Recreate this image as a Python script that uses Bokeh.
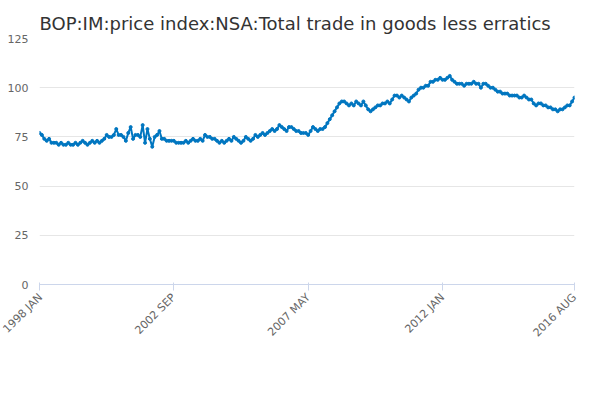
import numpy as np
from bokeh.plotting import figure
from bokeh.models import Legend, LegendItem, Label, FixedTicker, Range1d
from bokeh.embed import file_html
from bokeh.resources import INLINE

series_name = "BOP:IM:price index:NSA:Total trade in goods less erratics"
values = [
77,76,74,73,74,72,72,72,71,72,71,71,
72,71,71,72,71,72,73,72,71,72,73,72,
73,72,73,74,76,75,75,76,79,76,76,75,
73,77,80,74,76,76,75,81,72,79,74,70,
75,76,78,74,74,73,73,73,73,72,72,72,
72,73,72,73,74,73,73,74,73,76,75,75,
74,74,73,72,73,72,73,74,73,75,74,73,
72,73,75,74,73,74,76,75,76,77,76,77,
78,79,78,79,81,80,79,78,80,80,79,78,
78,77,77,77,76,78,80,79,78,79,79,80,
82,84,86,88,90,92,93,93,92,91,92,91,
93,92,91,93,91,89,88,89,90,91,91,92,
92,93,92,94,96,96,95,96,95,94,93,95,
96,97,99,100,100,101,101,103,103,104,104,105,
104,104,105,106,104,103,102,102,102,101,102,102,
102,103,102,102,100,102,102,101,100,100,99,98,
98,97,97,97,96,96,96,96,95,95,96,95,
94,94,92,91,92,92,91,91,90,90,89,89,
88,89,89,90,91,91,93,95]
tick_pos = [0, 56, 112, 168, 223]
tick_labels = ["1998 JAN", "2002 SEP", "2007 MAY", "2012 JAN", "2016 AUG"]
y_ticks = [0, 25, 50, 75, 100, 125]

x = list(range(len(values)))
p = figure(width=584, height=384, output_backend="svg", toolbar_location=None,
           x_range=Range1d(0, len(values)-1), y_range=Range1d(0, 125),
           min_border_left=39, min_border_right=10, min_border_top=38,
           min_border_bottom=100)
p.title.text = series_name
p.title.text_font = "DejaVu Sans"
p.title.text_font_size = "18px"
p.title.text_font_style = "normal"
p.title.text_color = "#333333"
p.title.offset = 0
col = "#0076c0"
r1 = p.line(x, values, line_color=col, line_width=2)
r2 = p.scatter(x, values, size=3, color=col)
p.xaxis.ticker = FixedTicker(ticks=tick_pos)
p.xaxis.major_label_overrides = {t: l for t, l in zip(tick_pos, tick_labels)}
p.xaxis.major_label_orientation = 0.785
p.yaxis.ticker = FixedTicker(ticks=y_ticks)
p.yaxis.axis_line_color = None
p.yaxis.major_tick_line_color = None
p.yaxis.minor_tick_line_color = None
p.xaxis.minor_tick_line_color = None
p.xaxis.axis_line_color = "#ccd6eb"
p.xaxis.major_tick_line_color = "#ccd6eb"
for ax in (p.xaxis, p.yaxis):
    ax.major_label_text_font = "DejaVu Sans"
    ax.major_label_text_font_size = "11px"
    ax.major_label_text_color = "#666666"
p.xgrid.grid_line_color = None
p.ygrid.grid_line_color = "#e6e6e6"
p.outline_line_color = None
legend = Legend(items=[LegendItem(label=series_name, renderers=[r1, r2])],
                location=(35, -90), orientation="horizontal",
                label_text_font="DejaVu Sans", label_text_font_size="13px",
                label_text_font_style="bold", label_text_color="#333333",
                border_line_color=None, background_fill_alpha=0, margin=0, glyph_width=20)
p.add_layout(legend, "center")
p.add_layout(Label(x=535, y=-103, x_units="screen", y_units="screen", text="Source:",
                   text_align="right", text_font="DejaVu Sans", text_font_size="12px",
                   text_color="#666666"))
open("out.html", "w").write(file_html(p, INLINE))
